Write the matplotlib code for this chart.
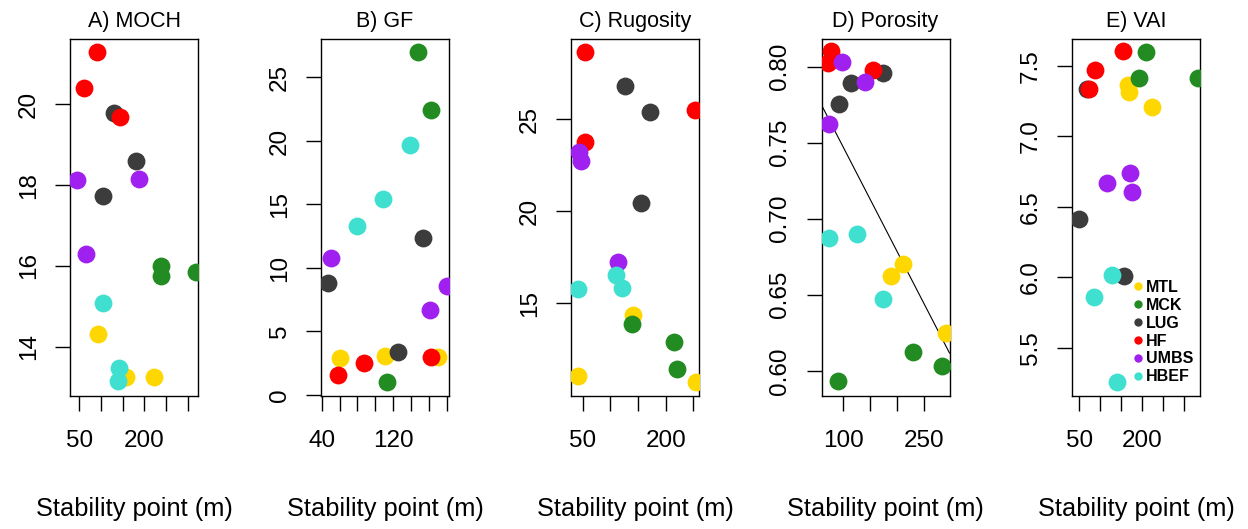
import matplotlib.pyplot as plt
from matplotlib.lines import Line2D

plt.rcParams["font.family"] = ["Liberation Sans", "DejaVu Sans"]

SITES = ["MTL", "MCK", "LUG", "HF", "UMBS", "HBEF"]
SITE_COLORS = ["#FFD700", "#228B22", "#3C3C3C", "#FF0000", "#A020F0", "#40E0D0"]

TITLES = ["A) MOCH", "B) GF", "C) Rugosity", "D) Porosity", "E) VAI"]

# stability point (m) and metric value, one inner list per site (SITES order)
MOCH_SP = [[93, 158, 223], [238, 238, 318], [131, 181, 105],
           [90, 61, 143], [45, 187, 65], [105, 141, 139]]
MOCH_VAL = [[14.31, 13.25, 13.25], [16.00, 15.74, 15.85], [19.79, 18.59, 17.73],
            [21.30, 20.40, 19.68], [18.12, 18.16, 16.29], [15.08, 13.48, 13.14]]

GF_SP = [[60, 111, 170], [148, 162, 113], [153, 47, 126],
         [162, 87, 58], [50, 180, 161], [139, 109, 80]]
GF_VAL = [[2.94, 3.07, 3.02], [27.03, 22.44, 1.05], [12.34, 8.84, 3.41],
          [3.02, 2.50, 1.57], [10.81, 8.58, 6.69], [19.69, 15.41, 13.31]]

RUG_SP = [[141, 42, 254], [139, 215, 221], [126, 171, 156],
          [55, 252, 55], [43, 47, 113], [111, 42, 121]]
RUG_VAL = [[14.36, 11.07, 10.74], [13.86, 12.88, 11.41], [26.83, 25.41, 20.47],
           [28.67, 25.51, 23.78], [23.24, 22.73, 17.23], [16.54, 15.76, 15.82]]

POR_SP = [[210, 189, 290], [230, 283, 91], [173, 114, 92],
          [77, 72, 155], [97, 140, 73], [73, 125, 174]]
POR_VAL = [[0.6702, 0.6623, 0.6246], [0.6125, 0.6031, 0.5934], [0.7961, 0.7891, 0.7755],
           [0.8103, 0.8022, 0.7978], [0.8033, 0.7901, 0.7621], [0.6871, 0.6897, 0.6470]]

VAI_SP = [[166, 168, 224], [210, 192, 332], [68, 48, 156],
          [153, 88, 74], [172, 116, 176], [128, 84, 140]]
VAI_VAL = [[7.363, 7.311, 7.209], [7.599, 7.411, 7.411], [7.333, 6.413, 6.009],
           [7.604, 7.470, 7.333], [6.741, 6.666, 6.602], [6.016, 5.862, 5.259]]

# linear fit drawn on the porosity panel
POR_FIT_INTERCEPT = 0.816
POR_FIT_SLOPE = -0.000688

X_TICKS = [[50, 100, 150, 200, 250, 300],
           [40, 60, 80, 100, 120, 140, 160, 180],
           [50, 100, 150, 200, 250],
           [100, 150, 200, 250],
           [50, 100, 150, 200, 250, 300]]
X_TICK_LABELS = [["50", "", "", "200", "", ""],
                 ["40", "", "", "", "120", "", "", ""],
                 ["50", "", "", "200", ""],
                 ["100", "", "", "250"],
                 ["50", "", "", "200", "", ""]]
Y_TICKS = [[14, 16, 18, 20],
           [0, 5, 10, 15, 20, 25],
           [15, 20, 25],
           [0.60, 0.65, 0.70, 0.75, 0.80],
           [5.5, 6.0, 6.5, 7.0, 7.5]]
Y_TICK_LABELS = [["14", "16", "18", "20"],
                 ["0", "5", "10", "15", "20", "25"],
                 ["15", "20", "25"],
                 ["0.60", "0.65", "0.70", "0.75", "0.80"],
                 ["5.5", "6.0", "6.5", "7.0", "7.5"]]
X_LIMS = [(29, 323), (39.2, 182.6), (29, 260), (59.9, 297), (33.2, 338.5)]
Y_LIMS = [(12.78, 21.62), (-0.08, 28.03), (9.96, 29.36), (0.5834, 0.8182), (5.157, 7.689)]

PANEL_SP = [MOCH_SP, GF_SP, RUG_SP, POR_SP, VAI_SP]
PANEL_VAL = [MOCH_VAL, GF_VAL, RUG_VAL, POR_VAL, VAI_VAL]

W, H = 1248, 529
fig = plt.figure(figsize=(W / 100, H / 100), dpi=100)

lefts = [70, 321, 571, 821.5, 1072.3]
box_w = 128
box_top, box_bot = 39, 396

for i in range(5):
    ax = fig.add_axes([lefts[i] / W, (H - box_bot) / H, box_w / W, (box_bot - box_top) / H])
    for s in range(len(SITES)):
        ax.scatter(PANEL_SP[i][s], PANEL_VAL[i][s], s=165, c=SITE_COLORS[s],
                   linewidths=0, zorder=3)
    if i == 3:
        ax.axline((0, POR_FIT_INTERCEPT), slope=POR_FIT_SLOPE, color="black", lw=0.8, zorder=2)
    ax.set_xlim(X_LIMS[i])
    ax.set_ylim(Y_LIMS[i])
    ax.set_xticks(X_TICKS[i])
    ax.set_xticklabels(X_TICK_LABELS[i])
    ax.set_yticks(Y_TICKS[i])
    ax.set_yticklabels(Y_TICK_LABELS[i], rotation=90, va="center")
    ax.tick_params(length=10.8, width=1.0, labelsize=17.5)
    ax.tick_params(axis="x", pad=14)
    ax.tick_params(axis="y", pad=11)
    for sp in ax.spines.values():
        sp.set_linewidth(1.0)
    ax.set_title(TITLES[i], fontsize=15.5, pad=9)
    ax.set_xlabel("Stability point (m)", fontsize=18.3, labelpad=32)

    if i == 4:
        handles = [Line2D([], [], marker="o", linestyle="", markersize=6,
                          markerfacecolor=c, markeredgewidth=0) for c in SITE_COLORS]
        ax.legend(handles, SITES, loc="upper left", bbox_to_anchor=(0.47, 0.325),
                  frameon=False, borderpad=0, borderaxespad=0, handlelength=0.7,
                  handletextpad=0.12, labelspacing=0.18,
                  prop={"size": 11.5, "weight": "bold"})

fig.savefig("out.png", dpi=100)
